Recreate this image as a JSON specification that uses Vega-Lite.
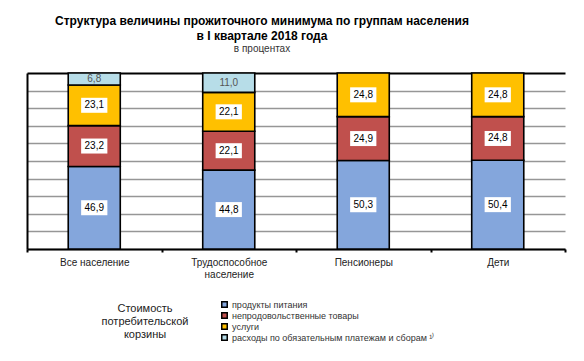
{
  "$schema": "https://vega.github.io/schema/vega-lite/v6.json",
  "width": 538,
  "height": 176,
  "autosize": {"type": "none"},
  "padding": {"left": 27, "top": 73, "right": 19, "bottom": 112},
  "background": "white",
  "title": {
    "text": ["Структура  величины прожиточного  минимума по группам  населения", "в I квартале 2018 года"],
    "subtitle": "в процентах",
    "font": "Liberation Sans",
    "fontSize": 12,
    "fontWeight": "bold",
    "lineHeight": 15,
    "color": "#000000",
    "subtitleFont": "Liberation Sans",
    "subtitleFontSize": 10,
    "subtitleColor": "#333333",
    "subtitlePadding": 1,
    "anchor": "middle",
    "dx": -34,
    "offset": 16
  },
  "data": {
    "values": [
      {"group": "Все население", "cat": "продукты питания", "ord": 1, "value": 46.9, "box": true},
      {"group": "Все население", "cat": "непродовольственные товары", "ord": 2, "value": 23.2, "box": true},
      {"group": "Все население", "cat": "услуги", "ord": 3, "value": 23.1, "box": true},
      {"group": "Все население", "cat": "расходы по обязательным платежам и сборам", "ord": 4, "value": 6.8, "box": false},
      {"group": "Трудоспособное население", "cat": "продукты питания", "ord": 1, "value": 44.8, "box": true},
      {"group": "Трудоспособное население", "cat": "непродовольственные товары", "ord": 2, "value": 22.1, "box": true},
      {"group": "Трудоспособное население", "cat": "услуги", "ord": 3, "value": 22.1, "box": true},
      {"group": "Трудоспособное население", "cat": "расходы по обязательным платежам и сборам", "ord": 4, "value": 11.0, "box": false},
      {"group": "Пенсионеры", "cat": "продукты питания", "ord": 1, "value": 50.3, "box": true},
      {"group": "Пенсионеры", "cat": "непродовольственные товары", "ord": 2, "value": 24.9, "box": true},
      {"group": "Пенсионеры", "cat": "услуги", "ord": 3, "value": 24.8, "box": true},
      {"group": "Дети", "cat": "продукты питания", "ord": 1, "value": 50.4, "box": true},
      {"group": "Дети", "cat": "непродовольственные товары", "ord": 2, "value": 24.8, "box": true},
      {"group": "Дети", "cat": "услуги", "ord": 3, "value": 24.8, "box": true}
    ]
  },
  "encoding": {
    "x": {
      "field": "group",
      "type": "nominal",
      "sort": null,
      "scale": {"paddingInner": 0, "paddingOuter": 0},
      "axis": {
        "title": null,
        "labelAngle": 0,
        "tickBand": "extent",
        "tickColor": "#000000",
        "tickSize": 3,
        "tickWidth": 2,
        "domainColor": "#000000",
        "domainWidth": 2,
        "labelFont": "Liberation Sans",
        "labelFontSize": 10,
        "labelColor": "#222222",
        "labelPadding": 5,
        "labelLineHeight": 12,
        "labelExpr": "datum.label == 'Трудоспособное население' ? ['Трудоспособное', 'население'] : datum.label",
        "grid": false
      }
    },
    "y": {
      "field": "value",
      "type": "quantitative",
      "stack": "zero",
      "scale": {"domain": [0, 100], "nice": false},
      "axis": {
        "title": null,
        "labels": false,
        "ticks": false,
        "values": [0, 10, 20, 30, 40, 50, 60, 70, 80, 90, 100],
        "domainColor": "#000000",
        "domainWidth": 2,
        "grid": true,
        "gridColor": {"condition": {"test": "datum.value == 100", "value": "#000000"}, "value": "#969696"},
        "gridWidth": {"condition": {"test": "datum.value == 100", "value": 2}, "value": 1.5},
        "gridOpacity": 1
      }
    },
    "order": {"field": "ord", "type": "quantitative"}
  },
  "layer": [
    {
      "mark": {"type": "bar", "width": {"band": 0.387}, "stroke": "#000000", "strokeWidth": 1.6},
      "encoding": {
        "color": {
          "field": "cat",
          "type": "nominal",
          "scale": {
            "domain": ["продукты питания", "непродовольственные товары", "услуги", "расходы по обязательным платежам и сборам"],
            "range": ["#84a6dc", "#c0504d", "#ffc000", "#b7dde8"]
          },
          "legend": {
            "title": ["Стоимость", "потребительской", "корзины"],
            "orient": "none",
            "legendX": 75,
            "legendY": 227,
            "titleOrient": "left",
            "titleAlign": "center",
            "titleFont": "Liberation Sans",
            "titleFontSize": 11,
            "titleFontWeight": "normal",
            "titleColor": "#222222",
            "titleLineHeight": 13,
            "titlePadding": -12,
            "labelFont": "Liberation Sans",
            "labelFontSize": 9,
            "labelColor": "#333333",
            "labelLimit": 400,
            "symbolType": "square",
            "symbolSize": 30,
            "symbolStrokeColor": "#000000",
            "symbolStrokeWidth": 1.5,
            "rowPadding": -3.7,
            "labelOffset": 3,
            "labelExpr": "datum.label == 'расходы по обязательным платежам и сборам' ? datum.label + ' ¹⁾' : datum.label"
          }
        }
      }
    },
    {
      "mark": {"type": "point", "shape": "M-1.75,-1H1.75V1H-1.75Z", "size": 225, "filled": true, "fill": "#ffffff", "stroke": null},
      "encoding": {
        "y": {"field": "value", "type": "quantitative", "stack": "zero", "bandPosition": 0.5},
        "opacity": {"condition": {"test": "datum.box", "value": 1}, "value": 0}
      }
    },
    {
      "mark": {"type": "text", "font": "Liberation Sans", "fontSize": 10, "baseline": "middle", "align": "center"},
      "encoding": {
        "y": {"field": "value", "type": "quantitative", "stack": "zero", "bandPosition": 0.5},
        "text": {"field": "value", "type": "quantitative", "format": ".1f"},
        "color": {"condition": {"test": "datum.box", "value": "#000000"}, "value": "#555555"}
      }
    }
  ],
  "config": {
    "view": {"stroke": null},
    "locale": {"number": {"decimal": ",", "thousands": " ", "grouping": [3], "currency": ["", ""]}}
  }
}
